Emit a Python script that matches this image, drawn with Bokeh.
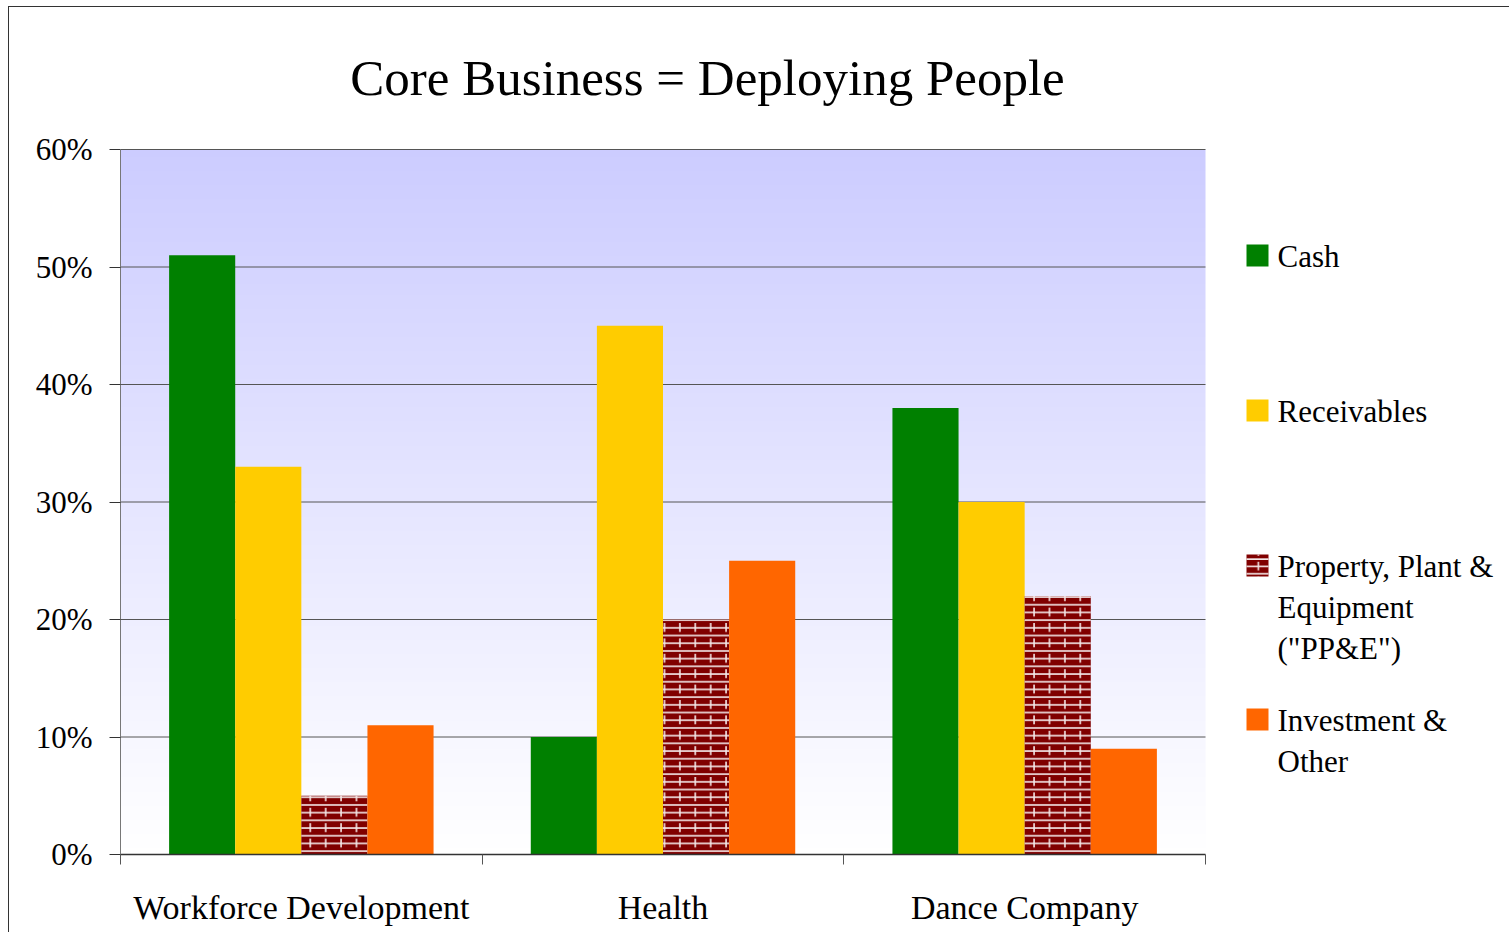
import numpy as np
from bokeh.plotting import figure
from bokeh.models import FixedTicker, Label, Range1d, ColumnDataSource
from bokeh.embed import file_html
from bokeh.resources import INLINE

# ---- data ----
title_text = "Core Business = Deploying People"
categories = ["Workforce Development", "Health", "Dance Company"]
series_names = ["Cash", "Receivables", 'Property, Plant &\nEquipment\n("PP&E")', "Investment &\nOther"]
cash = [51, 10, 38]
receivables = [33, 45, 30]
ppe = [5, 20, 22]
investment = [11, 25, 9]
y_ticks = [0, 10, 20, 30, 40, 50, 60]
y_tick_labels = ["0%", "10%", "20%", "30%", "40%", "50%", "60%"]

colors = ["#008000", "#ffcc00", "#800000", "#ff6600"]
FONT = "Liberation Serif"

# ---- layout (page pixels) ----
OX, OY = 9, 7                 # canvas origin on the page (margin + border)
W, H = 1500, 925
PL, PR, PB, PT = 120, 1205, 854, 149   # plot area on page: left, right, y of 0%, y of 60%
FL = PL - OX
FB = PB - OY
FW = PR - PL
FH_data = PB - PT
ncat = len(categories)
ymax = y_ticks[-1]


def dx(px):
    return (px - PL) / FW * ncat


def dy(py):
    return (PB - py) / FH_data * ymax


p = figure(width=W, height=H, output_backend="svg", toolbar_location=None,
           x_range=Range1d(0, dx(OX + W)), y_range=Range1d(0, dy(OY)),
           min_border_left=FL, min_border_top=0, min_border_right=0,
           min_border_bottom=H - FB,
           frame_width=W - FL, frame_height=FB)
p.outline_line_color = None
p.background_fill_color = "white"
p.border_fill_color = "white"
p.styles = {"margin-left": "8px", "margin-top": "6px",
            "border-left": "1px solid #333", "border-top": "1px solid #333"}
p.xgrid.grid_line_color = None
p.ygrid.grid_line_color = None

# gradient background of plot area
NR = 200
t = np.linspace(0, 1, NR)[:, None]  # 0 bottom -> 1 top
img = np.empty((NR, 1), dtype=np.uint32)
view = img.view(dtype=np.uint8).reshape((NR, 1, 4))
view[:, :, 0] = np.round(255 + (0xcc - 255) * t).astype(np.uint8)
view[:, :, 1] = np.round(255 + (0xcc - 255) * t).astype(np.uint8)
view[:, :, 2] = 255
view[:, :, 3] = 255
p.image_rgba(image=[img], x=0, y=0, dw=ncat, dh=ymax)

# grid lines
p.segment(x0=[0] * len(y_ticks[1:]), x1=[ncat] * len(y_ticks[1:]),
          y0=y_ticks[1:], y1=y_ticks[1:], line_color="#555555", line_width=1)

# bars
bw = 0.1828
centers = [i + 0.5 for i in range(ncat)]
all_series = [cash, receivables, ppe, investment]
offsets = [-1.5, -0.5, 0.5, 1.5]
for k, (vals, col) in enumerate(zip(all_series, colors)):
    xs = [c + offsets[k] * bw for c in centers]
    src = ColumnDataSource(dict(x=xs, top=vals))
    if k == 2:
        p.vbar(x="x", top="top", width=bw, source=src, fill_color=col, line_color=None,
               hatch_pattern="horizontal_line", hatch_color="#f4e8e8", hatch_scale=7.7,
               hatch_weight=1.6)
        p.vbar(x="x", top="top", width=bw, source=src, fill_color=None, line_color=None,
               hatch_pattern="vertical_dash", hatch_color="#f4e8e8", hatch_scale=15.4,
               hatch_weight=1.6)
    else:
        p.vbar(x="x", top="top", width=bw, source=src, fill_color=col, line_color=None)

# y axis
p.yaxis.bounds = (0, ymax)
p.yaxis.ticker = FixedTicker(ticks=y_ticks)
p.yaxis.major_label_overrides = {tk: lb for tk, lb in zip(y_ticks, y_tick_labels)}
p.yaxis.major_label_text_font = FONT
p.yaxis.major_label_text_font_size = "31px"
p.yaxis.major_label_text_color = "black"
p.yaxis.axis_line_color = "#777777"
p.yaxis.major_tick_line_color = "#333333"
p.yaxis.major_tick_out = 11
p.yaxis.major_tick_in = 0
p.yaxis.minor_tick_line_color = None
p.yaxis.major_label_standoff = 17

# x axis
p.xaxis.bounds = (0, ncat)
p.xaxis.ticker = FixedTicker(ticks=centers, minor_ticks=list(range(ncat + 1)))
p.xaxis.major_label_overrides = {c: n for c, n in zip(centers, categories)}
p.xaxis.major_tick_line_color = None
p.xaxis.major_tick_out = 0
p.xaxis.minor_tick_out = 10
p.xaxis.minor_tick_in = 0
p.xaxis.minor_tick_line_color = "#555555"
p.xaxis.axis_line_color = "#333333"
p.xaxis.axis_line_width = 1.5
p.xaxis.major_label_text_font = FONT
p.xaxis.major_label_text_font_size = "34px"
p.xaxis.major_label_text_color = "black"
p.xaxis.major_label_standoff = 24

# title
p.add_layout(Label(x=dx(707), y=dy(77), text=title_text, text_font=FONT,
                   text_font_size="51px", text_align="center",
                   text_baseline="alphabetic", text_color="black"))

# legend
sq_top = [244, 399, 554, 708]
baselines = [[256], [411], [566, 607, 648], [720, 761]]
for k, name in enumerate(series_names):
    src = ColumnDataSource(dict(l=[dx(1246)], r=[dx(1268)], t=[dy(sq_top[k])], b=[dy(sq_top[k] + 22)]))
    if k == 2:
        p.quad(left="l", right="r", top="t", bottom="b", source=src, fill_color=colors[k],
               line_color=None, hatch_pattern="horizontal_line", hatch_color="#f4e8e8",
               hatch_scale=7.3, hatch_weight=1.6)
        p.quad(left="l", right="r", top="t", bottom="b", source=src, fill_color=None,
               line_color=None, hatch_pattern="vertical_dash", hatch_color="#f4e8e8",
               hatch_scale=14.6, hatch_weight=1.6)
    else:
        p.quad(left="l", right="r", top="t", bottom="b", source=src,
               fill_color=colors[k], line_color=None)
    for line, by in zip(name.split("\n"), baselines[k]):
        p.add_layout(Label(x=dx(1277), y=dy(by), text=line, text_font=FONT,
                           text_font_size="31px", text_align="left",
                           text_baseline="alphabetic", text_color="black"))

open("out.html", "w").write(file_html(p, INLINE))
